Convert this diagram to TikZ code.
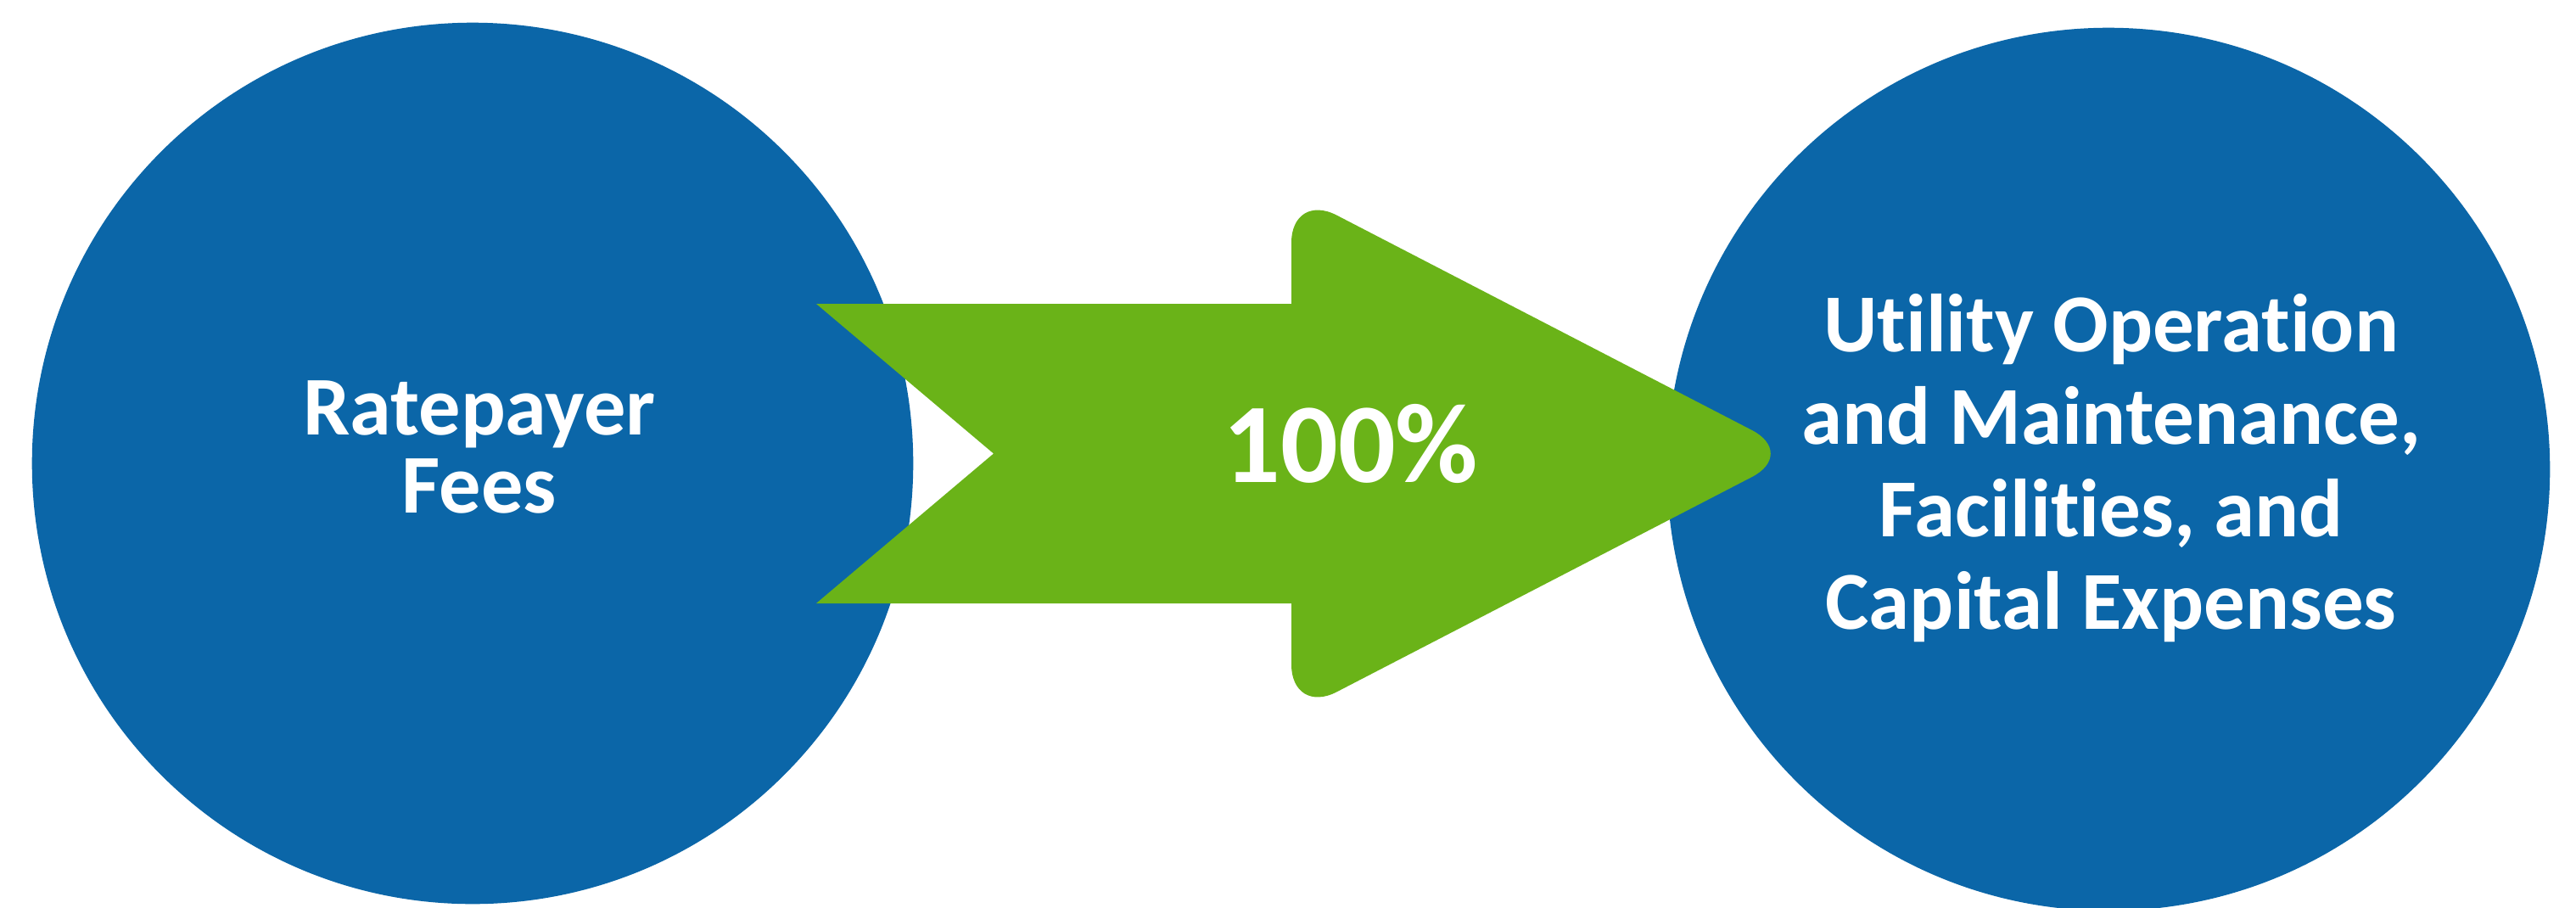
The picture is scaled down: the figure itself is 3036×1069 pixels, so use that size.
\documentclass[tikz,border=0pt]{standalone}
\usepackage{fontspec}
\setmainfont{Carlito}[Ligatures=NoCommon]
\usepackage{tikz}
\definecolor{feeblue}{RGB}{11,102,168}
\definecolor{flowgreen}{RGB}{106,179,24}

\begin{document}
\begin{tikzpicture}[x=0.01cm, y=-0.01cm,
  bubble/.style={circle, fill=feeblue, inner sep=0pt, minimum size=10.38cm},
  caption/.style={text=white, font=\bfseries\fontsize{28}{26}\selectfont, align=center}]
  \clip (0,0) rectangle (3036,1069);
  \fill[white] (0,0) rectangle (3036,1069);
  \node[bubble] (fees) at (557,546) {};
  \node[bubble, minimum size=10.4cm] (costs) at (2485,553) {};
  % arrow: notched shaft, then the rounded head
  \fill[flowgreen] (962,358) -- (1530,358) -- (1530,711) -- (962,711) -- (1171,534.5) -- cycle;
  \fill[flowgreen, rounded corners=0.6cm] (1522,226) -- (2118,534.5) -- (1522,843) -- cycle;
  \node[caption] (feestext) at (565,527) {Ratepayer\\Fees};
  \node[caption, font=\bfseries\fontsize{38}{40}\selectfont] (share) at (1592,523) {100\%};
  \node[caption, font=\bfseries\fontsize{27.6}{31}\selectfont] (coststext) at (2488,552)
    {Utility Operation\\and Maintenance,\\Facilities, and\\Capital Expenses};
\end{tikzpicture}
\end{document}
